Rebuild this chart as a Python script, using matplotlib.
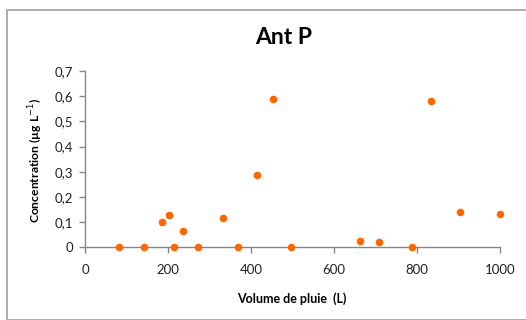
import matplotlib
matplotlib.use("Agg")
import matplotlib.pyplot as plt
from matplotlib.patches import Rectangle

volume = [82, 142, 184, 202, 213, 235, 272, 333, 369, 415, 452, 497, 664, 709, 788, 835, 904, 1000]
conc = [0, 0, 0.101, 0.127, 0, 0.065, 0, 0.116, 0, 0.288, 0.590, 0, 0.023, 0.019, 0, 0.580, 0.141, 0.130]
xticks = [0, 200, 400, 600, 800, 1000]
yticks = [0, 0.1, 0.2, 0.3, 0.4, 0.5, 0.6, 0.7]
ylabels = ["0", "0,1", "0,2", "0,3", "0,4", "0,5", "0,6", "0,7"]

plt.rcParams['font.family'] = ['Lato', 'DejaVu Sans']
W, H = 526, 320
fig = plt.figure(figsize=(W / 100, H / 100), dpi=100)
fig.patches.append(Rectangle((7 / W, 0), 1.2, 1 - 10 / H, transform=fig.transFigure,
                             fill=False, edgecolor='#a0a0a0', linewidth=1.2))

ax = fig.add_axes([85.3 / W, 1 - 247 / H, (499.7 - 85.3) / W, (247 - 71.3) / H])
ax.scatter(volume, conc, s=30, color='#ff6600', zorder=3, clip_on=False, linewidths=0)
ax.set_xlim(0, 1000)
ax.set_ylim(0, 0.7)
ax.set_xticks(xticks)
ax.set_yticks(yticks)
ax.set_yticklabels(ylabels)
for s in ['top', 'right']:
    ax.spines[s].set_visible(False)
for s in ['left', 'bottom']:
    ax.spines[s].set_color('#868686')
    ax.spines[s].set_linewidth(1)
ax.tick_params(axis='both', colors='#868686', labelcolor='#222222', labelsize=9.5, length=4, width=1)
ax.tick_params(axis='x', pad=8)
ax.tick_params(axis='y', pad=5)

fig.text(283.5 / W, 1 - 38 / H, "Ant P", ha='center', va='center', fontsize=16.5, fontweight='bold')
fig.text(292 / W, 1 - 299 / H, "Volume de pluie  (L)", ha='center', va='center', fontsize=9, fontweight='bold')
fig.text(36 / W, 1 - 160 / H, "Concentration (µg L$^{-1}$)", ha='center', va='center', fontsize=8.7,
         fontweight='bold', rotation=90)

fig.savefig("out.png", dpi=100, facecolor='white')
